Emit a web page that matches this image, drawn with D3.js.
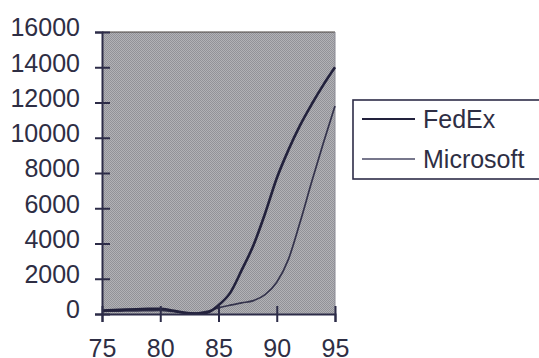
<!DOCTYPE html>
<html>
<head>
<meta charset="utf-8">
<script src="https://cdn.jsdelivr.net/npm/d3@7"></script>
<style>
  body { margin: 0; background: #fff; }
  svg { display: block; font-family: "Liberation Sans", Arial, sans-serif; }
</style>
</head>
<body>
<div id="chart"></div>
<script>
// Data
const years = [75, 76, 77, 78, 79, 80, 81, 82, 83, 84, 85, 86, 87, 88, 89, 90, 91, 92, 93, 94, 95];
const fedex = [200, 220, 250, 270, 290, 300, 200, 80, 30, 80, 500, 1200, 2500, 3900, 5700, 7700, 9300, 10700, 11900, 13000, 14000];
const microsoft = [150, 160, 170, 180, 190, 200, 150, 80, 50, 150, 350, 500, 630, 760, 1100, 1800, 3100, 5200, 7500, 9700, 11800];
const xTicks = [75, 80, 85, 90, 95];
const yTicks = [0, 2000, 4000, 6000, 8000, 10000, 12000, 14000, 16000];
const seriesNames = ["FedEx", "Microsoft"];

const W = 539, H = 358;
const margin = { top: 32, right: 204, bottom: 44, left: 102 };
const width = W - margin.left - margin.right;
const height = H - margin.top - margin.bottom;
const ink = "#2d2c48";
const textInk = "#2e2e44";

const svg = d3.select("#chart")
  .append("svg")
  .attr("width", W)
  .attr("height", H);

// halftone-ish grey fill
const pat = svg.append("defs").append("pattern")
  .attr("id", "dots")
  .attr("width", 2).attr("height", 2)
  .attr("patternUnits", "userSpaceOnUse");
pat.append("rect").attr("width", 2).attr("height", 2).attr("fill", "#b2b2b6");
pat.append("rect").attr("width", 1).attr("height", 1).attr("fill", "#929298");
pat.append("rect").attr("x", 1).attr("y", 1).attr("width", 1).attr("height", 1).attr("fill", "#929298");

const g = svg.append("g")
  .attr("transform", `translate(${margin.left},${margin.top})`);

const x = d3.scaleLinear().domain([75, 95]).range([0, width]);
const y = d3.scaleLinear().domain([0, 16000]).range([height, 0]);

// plot area
g.append("rect")
  .attr("width", width)
  .attr("height", height)
  .attr("fill", "url(#dots)");

g.append("line")
  .attr("x1", 0).attr("x2", width)
  .attr("y1", 0).attr("y2", 0)
  .attr("stroke", "#4a4440").attr("stroke-width", 1.2);
g.append("line")
  .attr("x1", width).attr("x2", width)
  .attr("y1", 0).attr("y2", height)
  .attr("stroke", "#8a8a94").attr("stroke-width", 1);

// lines
const line = d3.line()
  .x((d, i) => x(years[i]))
  .y((d) => y(d))
  .curve(d3.curveMonotoneX);

g.append("path")
  .datum(microsoft)
  .attr("fill", "none")
  .attr("stroke", "#34334c")
  .attr("stroke-width", 1.7)
  .attr("d", line);

g.append("path")
  .datum(fedex)
  .attr("fill", "none")
  .attr("stroke", "#22213c")
  .attr("stroke-width", 2.6)
  .attr("d", line);

// axes
const yAxis = g.append("g")
  .call(d3.axisLeft(y).tickValues(yTicks).tickSize(7).tickPadding(15).tickFormat(d3.format("d")));
yAxis.select(".domain").attr("stroke", ink).attr("stroke-width", 2);
yAxis.selectAll(".tick line").attr("x1", 8).attr("stroke", ink).attr("stroke-width", 2);
yAxis.selectAll(".tick text")
  .attr("fill", textInk)
  .attr("font-size", 25)
  .attr("dy", "0.15em");

const xAxis = g.append("g")
  .attr("transform", `translate(0,${height})`)
  .call(d3.axisBottom(x).tickValues(xTicks).tickSize(8).tickPadding(17));
xAxis.select(".domain").attr("stroke", ink).attr("stroke-width", 2);
xAxis.selectAll(".tick line").attr("y1", -8).attr("stroke", ink).attr("stroke-width", 2);
xAxis.selectAll(".tick text")
  .attr("fill", textInk)
  .attr("font-size", 25);

// legend
const legend = svg.append("g").attr("transform", "translate(353,100)");
legend.append("rect")
  .attr("width", 200).attr("height", 79)
  .attr("fill", "#fff")
  .attr("stroke", ink).attr("stroke-width", 1.6);

const rows = legend.selectAll(".row")
  .data(seriesNames)
  .enter()
  .append("g")
  .attr("transform", (d, i) => `translate(0,${19 + i * 40})`);

rows.append("line")
  .attr("x1", 9).attr("x2", 62)
  .attr("stroke", (d, i) => (i === 0 ? "#22213c" : "#4a4a66"))
  .attr("stroke-width", (d, i) => (i === 0 ? 2 : 1.6));

rows.append("text")
  .attr("x", 70)
  .attr("y", 9)
  .attr("fill", textInk)
  .attr("font-size", 25)
  .text((d) => d);
</script>
</body>
</html>
